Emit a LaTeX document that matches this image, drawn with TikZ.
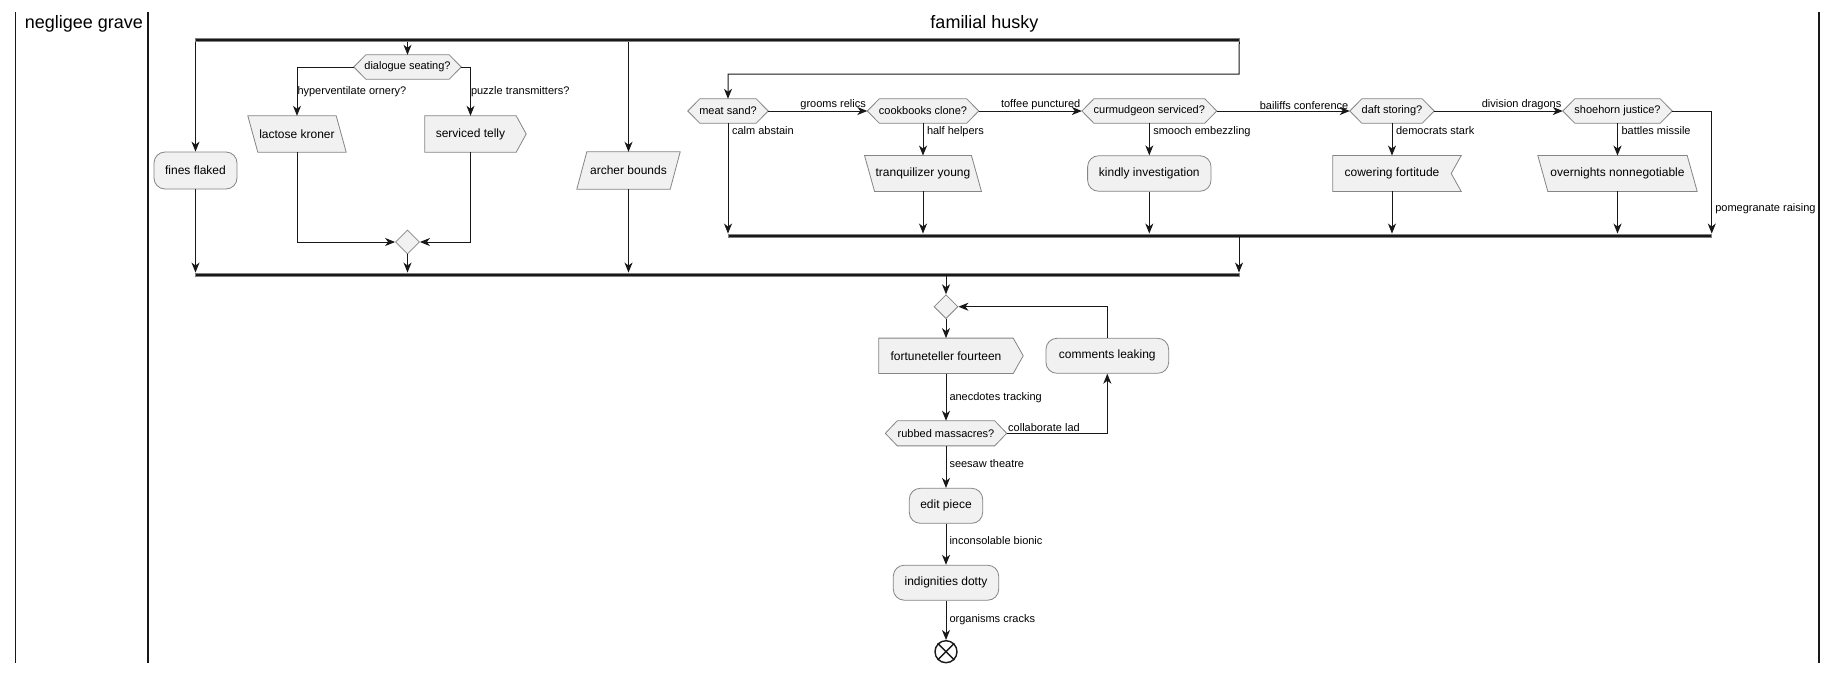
\documentclass[tikz,border=0pt]{standalone}
\usepackage{fontspec}
\setmainfont{Liberation Sans}
\usetikzlibrary{arrows.meta,shapes.geometric,calc,backgrounds}
\definecolor{fillc}{HTML}{F1F1F1}
\definecolor{linec}{HTML}{181818}
\definecolor{bordc}{HTML}{858585}
\tikzset{
  ntext/.style={font=\fontsize{12}{14}\selectfont, inner sep=0pt, align=center, text=black},
  actbox/.style={ntext, rectangle, rounded corners=11pt, draw=bordc, fill=fillc, line width=0.8pt},
  plainbox/.style={ntext, rectangle},
  shp/.style={draw=bordc, fill=fillc, line width=0.8pt},
  hexnode/.style={font=\fontsize{11}{13}\selectfont, inner sep=0pt, minimum height=24pt},
  lab/.style={font=\fontsize{11}{13}\selectfont, inner sep=1pt, text=black},
  arr/.style={draw=linec, line width=1pt, -{Stealth[length=10pt,width=8pt,inset=3pt]}},
  bar/.style={rectangle, fill=linec, draw=gray, line width=0.5pt, inner sep=0pt, minimum height=3pt},
  dia/.style={diamond, draw=bordc, fill=fillc, line width=0.8pt, inner sep=0pt, minimum width=24pt, minimum height=24pt},
  lane/.style={draw=linec, line width=1.6pt},
  ltitle/.style={font=\fontsize{18}{21}\selectfont, inner sep=0pt},
}
\newcommand\outHex[1]{\draw[shp] (#1.west) -- ($(#1.north west)+(12,0)$) -- ($(#1.north east)+(-12,0)$) -- (#1.east) -- ($(#1.south east)+(-12,0)$) -- ($(#1.south west)+(12,0)$) -- cycle;}
\newcommand\outPgL[1]{\draw[shp] (#1.north west) -- ($(#1.north east)+(-10,0)$) -- (#1.south east) -- ($(#1.south west)+(10,0)$) -- cycle;}
\newcommand\outPgR[1]{\draw[shp] ($(#1.north west)+(10,0)$) -- (#1.north east) -- ($(#1.south east)+(-10,0)$) -- (#1.south west) -- cycle;}
\newcommand\outSig[1]{\draw[shp] (#1.north west) -- (#1.north east) -- ($(#1.east)+(10,0)$) -- (#1.south east) -- (#1.south west) -- cycle;}
\newcommand\outNotch[1]{\draw[shp] (#1.north west) -- ($(#1.north east)+(10,0)$) -- (#1.east) -- ($(#1.south east)+(10,0)$) -- (#1.south west) -- cycle;}
\begin{document}
\begin{tikzpicture}[x=1pt,y=-1pt]
\useasboundingbox (0,0) rectangle (1836,673);

% lanes
\draw[lane] (15.5,12) -- (15.5,663);
\draw[lane] (148,12) -- (148,663);
\draw[lane] (1819,12) -- (1819,663);
\node[ltitle] (t1) at (84,24) {negligee grave};
\node[ltitle] (t2) at (984.5,24) {familial husky};

% bars
\node[bar, minimum width=1044pt] (fork1) at (717,40) {};
\node[bar, minimum width=1044pt] (join1) at (717,274.3) {};
\node[bar, minimum width=983.5pt] (join2) at (1219.75,235.3) {};
\coordinate (c1) at (1239,74);

% left group
\node[actbox, minimum width=83pt, minimum height=37pt] (fines) at (195.5,170.5) {fines flaked};
\node[hexnode, minimum width=107pt] (dlg) at (407.5,67) {dialogue seating?};
\node[plainbox, minimum width=98pt, minimum height=36pt] (lact) at (297,134) {lactose kroner};
\node[plainbox, minimum width=91pt, minimum height=36pt] (tel) at (470.5,134) {serviced telly};
\node[dia] (m1) at (407.5,242) {};
\node[plainbox, minimum width=103pt, minimum height=37pt] (archer) at (628.5,170.5) {archer bounds};

% right group
\node[hexnode, minimum width=80pt] (meat) at (728,111) {meat sand?};
\node[hexnode, minimum width=111pt] (cook) at (923,111) {cookbooks clone?};
\node[hexnode, minimum width=134.5pt] (curm) at (1149.3,111) {curmudgeon serviced?};
\node[hexnode, minimum width=84pt] (daft) at (1392,111) {daft storing?};
\node[hexnode, minimum width=109pt] (shoe) at (1617.5,111) {shoehorn justice?};
\node[plainbox, minimum width=116.5pt, minimum height=35.5pt] (tranq) at (923,173.5) {tranquilizer young};
\node[actbox, minimum width=123.4pt, minimum height=35.5pt] (kind) at (1149.3,173.5) {kindly investigation};
\node[plainbox, minimum width=118pt, minimum height=35.5pt] (cow) at (1392,173.5) {cowering fortitude};
\node[plainbox, minimum width=159pt, minimum height=35.5pt] (over) at (1617.5,173.5) {overnights nonnegotiable};

% loop
\node[dia] (m2) at (946,306.7) {};
\node[plainbox, minimum width=134pt, minimum height=35pt] (fort) at (946,355.8) {fortuneteller fourteen};
\node[actbox, minimum width=122.7pt, minimum height=35pt] (comm) at (1107.3,355.8) {comments leaking};
\node[hexnode, minimum width=121pt, minimum height=24.7pt] (rub) at (946,433.3) {rubbed massacres?};
\node[actbox, minimum width=73.4pt, minimum height=35pt] (edit) at (946,505.8) {edit piece};
\node[actbox, minimum width=105.4pt, minimum height=35pt] (indig) at (946,582.7) {indignities dotty};
\node[circle, draw=linec, fill=white, line width=1.4pt, minimum size=22pt, inner sep=0pt] (end) at (946,651.7) {};
\draw[draw=linec, line width=1.4pt] (end.north west) -- (end.south east) (end.north east) -- (end.south west);

% outlines on background
\begin{scope}[on background layer]
\fill[white] (0,0) rectangle (1836,673);
\outHex{dlg}
\outHex{meat}
\outHex{cook}
\outHex{curm}
\outHex{daft}
\outHex{shoe}
\outHex{rub}
\outPgL{lact}
\outPgR{archer}
\outPgL{tranq}
\outPgL{over}
\outSig{tel}
\outSig{fort}
\outNotch{cow}
\end{scope}

% connectors, left group
\draw[arr] (fines |- fork1.south) -- (fines.north);
\draw[arr] (dlg |- fork1.south) -- (dlg.north);
\draw[arr] (archer |- fork1.south) -- (archer.north);
\draw[arr] (fork1.south east) -- (c1) -| (meat.north);
\draw[arr] (dlg.west) -| node[lab, anchor=west, pos=0.75, xshift=-1pt] {hyperventilate ornery?} (lact.north);
\draw[arr] (dlg.east) -| node[lab, anchor=west, pos=0.75, xshift=-1pt] {puzzle transmitters?} (tel.north);
\draw[arr] (lact.south) |- (m1.west);
\draw[arr] (tel.south) |- (m1.east);
\draw[arr] (m1.south) -- (m1 |- join1.north);
\draw[arr] (fines.south) -- (fines |- join1.north);
\draw[arr] (archer.south) -- (archer |- join1.north);

% connectors, right group
\draw[arr] (meat.east) -- node[lab, anchor=south east, pos=1] {grooms relics} (cook.west);
\draw[arr] (cook.east) -- node[lab, anchor=south east, pos=1] {toffee punctured} (curm.west);
\draw[arr] (curm.east) -- node[lab, anchor=south east, pos=1] {bailiffs conference} (daft.west);
\draw[arr] (daft.east) -- node[lab, anchor=south east, pos=1] {division dragons} (shoe.west);
\draw[arr] (meat.south) -- node[lab, anchor=north west, pos=0, xshift=2.5pt, yshift=-1.5pt] {calm abstain} (meat |- join2.north);
\draw[arr] (cook.south) -- node[lab, anchor=north west, pos=0, xshift=2.5pt, yshift=-1.5pt] {half helpers} (tranq.north);
\draw[arr] (curm.south) -- node[lab, anchor=north west, pos=0, xshift=2.5pt, yshift=-1.5pt] {smooch embezzling} (kind.north);
\draw[arr] (daft.south) -- node[lab, anchor=north west, pos=0, xshift=2.5pt, yshift=-1.5pt] {democrats stark} (cow.north);
\draw[arr] (shoe.south) -- node[lab, anchor=north west, pos=0, xshift=2.5pt, yshift=-1.5pt] {battles missile} (over.north);
\draw[arr] (shoe.east) -| node[lab, anchor=west, pos=0.9, xshift=2pt] {pomegranate raising} (join2.north east);
\draw[arr] (tranq.south) -- (tranq |- join2.north);
\draw[arr] (kind.south) -- (kind |- join2.north);
\draw[arr] (cow.south) -- (cow |- join2.north);
\draw[arr] (over.south) -- (over |- join2.north);
\draw[arr] (c1 |- join2.south) -- (c1 |- join1.north);

% connectors, loop and tail
\draw[arr] (m2 |- join1.south) -- (m2.north);
\draw[arr] (m2.south) -- (fort.north);
\draw[arr] (fort.south) -- node[lab, anchor=west, pos=0.52, xshift=2pt] {anecdotes tracking} (rub.north);
\draw[arr] (rub.east) -| node[lab, anchor=south west, pos=0] {collaborate lad} (comm.south);
\draw[arr] (comm.north) |- (m2.east);
\draw[arr] (rub.south) -- node[lab, anchor=west, pos=0.43, xshift=2pt] {seesaw theatre} (edit.north);
\draw[arr] (edit.south) -- node[lab, anchor=west, pos=0.42, xshift=2pt] {inconsolable bionic} (indig.north);
\draw[arr] (indig.south) -- node[lab, anchor=west, pos=0.49, xshift=2pt] {organisms cracks} (end.north);
\end{tikzpicture}
\end{document}
